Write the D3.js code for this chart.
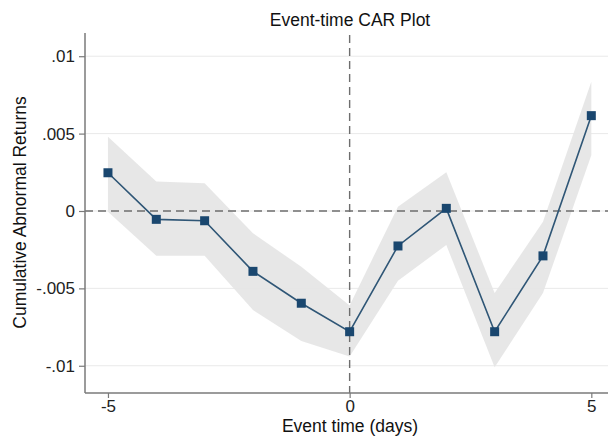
<!DOCTYPE html>
<html>
<head>
<meta charset="utf-8">
<script src="https://cdn.jsdelivr.net/npm/d3@7"></script>
<style>
  html, body { margin: 0; padding: 0; background: #fff; }
  svg { display: block; font-family: "Liberation Sans", Arial, Helvetica, sans-serif; }
</style>
</head>
<body>
<svg id="chart" width="608" height="436"></svg>
<script>
const days = [-5, -4, -3, -2, -1, 0, 1, 2, 3, 4, 5];
const car = [0.00247, -0.00054, -0.00063, -0.0039, -0.00596, -0.0078, -0.00226, 0.00017, -0.0078, -0.0029, 0.00616];
const ciUpper = [0.0048, 0.0019, 0.0018, -0.00144, -0.0036, -0.0061, 0.00028, 0.0025, -0.0053, -0.0007, 0.00835];
const ciLower = [-0.00005, -0.0029, -0.0029, -0.0064, -0.0084, -0.0094, -0.0045, -0.0022, -0.0101, -0.0053, 0.0036];
const xTicks = [-5, 0, 5];
const xTickLabels = ["-5", "0", "5"];
const yTicks = [-0.01, -0.005, 0, 0.005, 0.01];
const yTickLabels = ["-.01", "-.005", "0", ".005", ".01"];
const title = "Event-time CAR Plot";
const xTitle = "Event time (days)";
const yTitle = "Cumulative Abnormal Returns";

(function () {
const svg = d3.select("#chart");
const mL = 85, mR = 615, mT = 33, mB = 393;

const x = d3.scaleLinear().domain([-5.475, 5.49]).range([mL, mR]);
const y = d3.scaleLinear().domain([-0.01176, 0.0115]).range([mB, mT]);

const navy = "#1a476f";
const axisGray = "#7a7a7a";

// grid lines
svg.append("g").selectAll("line").data(yTicks).join("line")
  .attr("x1", mL).attr("x2", 608)
  .attr("y1", d => y(d)).attr("y2", d => y(d))
  .attr("stroke", "#e9e9e9").attr("stroke-width", 1);

// confidence band
const rows = days.map((d, i) => ({ d, lo: ciLower[i], hi: ciUpper[i], v: car[i] }));
svg.append("path").datum(rows)
  .attr("d", d3.area().x(r => x(r.d)).y0(r => y(r.lo)).y1(r => y(r.hi)))
  .attr("fill", "#e6e6e6").attr("fill-opacity", 0.95);

// reference dashed lines
svg.append("line")
  .attr("x1", mL).attr("x2", 608).attr("y1", y(0)).attr("y2", y(0))
  .attr("stroke", "#6e6e6e").attr("stroke-width", 1.4).attr("stroke-dasharray", "8,5");
svg.append("line")
  .attr("x1", x(0)).attr("x2", x(0)).attr("y1", mT + 2).attr("y2", mB)
  .attr("stroke", "#6e6e6e").attr("stroke-width", 1.4).attr("stroke-dasharray", "8,5");

// axes
const yAxis = d3.axisLeft(y).tickValues(yTicks).tickFormat((d, i) => yTickLabels[i]).tickSize(6).tickPadding(4);
const gy = svg.append("g").attr("transform", `translate(${mL},0)`).call(yAxis);
gy.select(".domain").attr("d", `M0,${mT}V${mB}`).attr("stroke", axisGray).attr("stroke-width", 1.5);
gy.selectAll(".tick line").attr("stroke", axisGray).attr("stroke-width", 1.2);
gy.selectAll(".tick text").attr("font-size", 17).attr("fill", "#222")
  .attr("font-family", "'Liberation Sans', Arial, sans-serif");

const xAxis = d3.axisBottom(x).tickValues(xTicks).tickFormat((d, i) => xTickLabels[i]).tickSize(5).tickPadding(2);
const gx = svg.append("g").attr("transform", `translate(0,${mB})`).call(xAxis);
gx.select(".domain").attr("d", `M${mL},0H608`).attr("stroke", axisGray).attr("stroke-width", 1.5);
gx.selectAll(".tick line").attr("stroke", axisGray).attr("stroke-width", 1.2);
gx.selectAll(".tick text").attr("font-size", 17).attr("fill", "#222")
  .attr("font-family", "'Liberation Sans', Arial, sans-serif");

// series line
svg.append("path").datum(rows)
  .attr("d", d3.line().x(r => x(r.d)).y(r => y(r.v)))
  .attr("fill", "none").attr("stroke", "#2f5676").attr("stroke-width", 1.6);

// markers
const ms = 9;
svg.append("g").selectAll("rect").data(rows).join("rect")
  .attr("x", r => x(r.d) - ms / 2).attr("y", r => y(r.v) - ms / 2)
  .attr("width", ms).attr("height", ms).attr("fill", navy);

// titles
svg.append("text").attr("x", 350).attr("y", 26).attr("text-anchor", "middle")
  .attr("font-size", 17.5).attr("fill", "#111").text(title);
svg.append("text").attr("x", 350).attr("y", 432).attr("text-anchor", "middle")
  .attr("font-size", 17.5).attr("fill", "#111").text(xTitle);
svg.append("text").attr("transform", "translate(26,212.5) rotate(-90)").attr("text-anchor", "middle")
  .attr("font-size", 17.5).attr("fill", "#111").text(yTitle);
})();
</script>
</body>
</html>
